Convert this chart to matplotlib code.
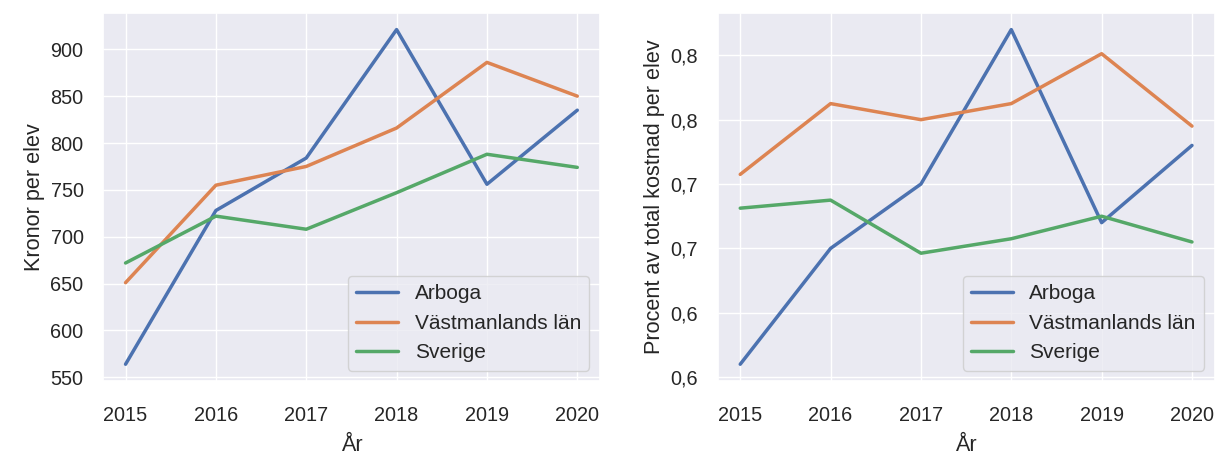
import matplotlib
matplotlib.use("Agg")
import matplotlib.pyplot as plt
import seaborn as sns
from matplotlib.ticker import FixedLocator, FuncFormatter

sns.set_theme(style="darkgrid", font_scale=1.3)
plt.rcParams["font.family"] = ["Liberation Sans", "DejaVu Sans"]

years = [2015, 2016, 2017, 2018, 2019, 2020]

# kronor per elev
kr_arboga = [564, 728, 784, 921, 756, 835]
kr_vastmanland = [651, 755, 775, 816, 886, 850]
kr_sverige = [672, 722, 708, 747, 788, 774]

# andel av total kostnad per elev
pct_arboga = [0.608, 0.680, 0.720, 0.816, 0.696, 0.744]
pct_vastmanland = [0.726, 0.770, 0.760, 0.770, 0.801, 0.756]
pct_sverige = [0.705, 0.710, 0.677, 0.686, 0.700, 0.684]
pct_ticks = [0.60, 0.64, 0.68, 0.72, 0.76, 0.80]

labels = ["Arboga", "Västmanlands län", "Sverige"]

fig, (ax1, ax2) = plt.subplots(1, 2, figsize=(12.17, 4.59), dpi=100)

for series, lab in zip([kr_arboga, kr_vastmanland, kr_sverige], labels):
    ax1.plot(years, series, lw=2.5, label=lab)
for series, lab in zip([pct_arboga, pct_vastmanland, pct_sverige], labels):
    ax2.plot(years, series, lw=2.5, label=lab)

ax1.set_ylabel("Kronor per elev")
ax2.set_ylabel("Procent av total kostnad per elev")
ax2.yaxis.set_major_locator(FixedLocator(pct_ticks))
ax2.yaxis.set_major_formatter(FuncFormatter(lambda v, p: f"{v:.1f}".replace(".", ",")))

for ax in (ax1, ax2):
    ax.set_xticks(years)
    ax.set_xlabel("År", labelpad=7)
    ax.tick_params(axis="x", pad=12)
    ax.tick_params(axis="y", pad=8)
    ax.legend(loc="lower right", fontsize=15)

fig.subplots_adjust(left=0.0846, right=0.998, top=0.972, bottom=0.170, wspace=0.237)
fig.savefig("out.png", dpi=100)
